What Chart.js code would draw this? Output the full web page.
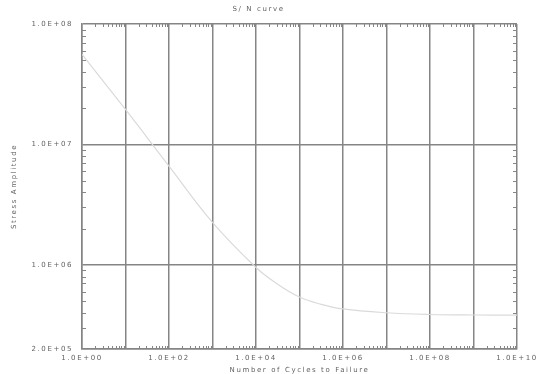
<!DOCTYPE html>
<html>
<head>
<meta charset="utf-8">
<script src="https://cdn.jsdelivr.net/npm/chart.js@4/dist/chart.umd.min.js"></script>
<style>
html,body{margin:0;padding:0;background:#fff;}
#wrap{width:547px;height:374px;}
</style>
</head>
<body>
<div id="wrap"><canvas id="c" width="547" height="374"></canvas></div>
<script>
// Data
const cycles = [1e0, 1e1, 1e2, 1e3, 1e4, 3.16e4, 1e5, 3.16e5, 1e6, 1e7, 1e8, 1e9, 1e10];
const stress = [5.6e7, 1.95e7, 6.6e6, 2.25e6, 9.5e5, 6.9e5, 5.4e5, 4.7e5, 4.3e5, 4.0e5, 3.87e5, 3.83e5, 3.82e5];

const xTickValues = [1e0,1e1,1e2,1e3,1e4,1e5,1e6,1e7,1e8,1e9,1e10];
const xTickLabels = ['1.0E+00','','1.0E+02','','1.0E+04','','1.0E+06','','1.0E+08','','1.0E+10'];
const yTickValues = [2e5, 1e6, 1e7, 1e8];
const yTickLabels = ['2.0E+05','1.0E+06','1.0E+07','1.0E+08'];

const titleText = 'S/ N curve';
const xTitle = 'Number of Cycles to Failure';
const yTitle = 'Stress Amplitude';

const GRID = '#858585';
const TEXT = '#626262';

const spacingPlugin = {
  id: 'spacing',
  beforeDraw(chart){ chart.ctx.letterSpacing = '1.6px'; }
};

const minorTicks = {
  id: 'minorTicks',
  afterDraw(chart){
    const ctx = chart.ctx, a = chart.chartArea;
    const xs = chart.scales.x, ys = chart.scales.y;
    ctx.save();
    ctx.strokeStyle = GRID;
    ctx.lineWidth = 1;
    ctx.beginPath();
    for (let d = 0; d < 10; d++) {
      for (let k = 2; k <= 9; k++) {
        const px = Math.round(xs.getPixelForValue(k * Math.pow(10, d))) + 0.5;
        ctx.moveTo(px, a.top); ctx.lineTo(px, a.top + 3);
        ctx.moveTo(px, a.bottom); ctx.lineTo(px, a.bottom - 3);
      }
    }
    for (let d = 5; d < 8; d++) {
      for (let k = 2; k <= 9; k++) {
        const v = k * Math.pow(10, d);
        if (v <= 2e5) continue;
        const py = Math.round(ys.getPixelForValue(v)) + 0.5;
        ctx.moveTo(a.left, py); ctx.lineTo(a.left + 4, py);
        ctx.moveTo(a.right, py); ctx.lineTo(a.right - 4, py);
      }
    }
    ctx.stroke();
    ctx.restore();
  }
};

new Chart(document.getElementById('c'), {
  type: 'line',
  data: {
    datasets: [{
      data: cycles.map((c, i) => ({x: c, y: stress[i]})),
      borderColor: '#dadada',
      borderWidth: 1.2,
      pointRadius: 0,
      tension: 0.4,
      fill: false
    }]
  },
  options: {
    responsive: false,
    animation: false,
    devicePixelRatio: 1,
    layout: { padding: { left: 0, right: 30, top: 0, bottom: 0 } },
    plugins: {
      legend: { display: false },
      tooltip: { enabled: false },
      title: {
        display: true,
        text: titleText,
        color: TEXT,
        font: { family: 'DejaVu Sans', size: 7, weight: 'normal' },
        padding: { top: 5, bottom: 10.6 },
        align: 'center'
      }
    },
    scales: {
      x: {
        type: 'logarithmic',
        min: 1e0, max: 1e10,
        afterBuildTicks(scale){ scale.ticks = xTickValues.map(v => ({value: v})); },
        afterFit(scale){ scale.height = 25; },
        ticks: {
          autoSkip: false, maxRotation: 0, padding: 5,
          color: TEXT,
          font: { family: 'DejaVu Sans', size: 7 },
          callback(v, i){ return xTickLabels[i]; }
        },
        grid: { color: GRID, lineWidth: 1.5, drawTicks: false },
        border: { color: GRID, width: 1.5 },
        title: {
          display: true, text: xTitle, color: TEXT,
          font: { family: 'DejaVu Sans', size: 7 },
          padding: { top: 0, bottom: 0 }
        }
      },
      y: {
        type: 'logarithmic',
        min: 2e5, max: 1e8,
        afterBuildTicks(scale){ scale.ticks = yTickValues.map(v => ({value: v})); },
        afterFit(scale){ scale.width = 82; },
        ticks: {
          autoSkip: false, padding: 9,
          color: TEXT,
          font: { family: 'DejaVu Sans', size: 7 },
          callback(v, i){ return yTickLabels[i]; }
        },
        grid: { color: GRID, lineWidth: 1.5, drawTicks: false },
        border: { color: GRID, width: 1.5 },
        title: {
          display: true, text: yTitle, color: TEXT,
          font: { family: 'DejaVu Sans', size: 7 },
          padding: { top: 10, bottom: 0 }
        }
      }
    }
  },
  plugins: [spacingPlugin, minorTicks]
});
</script>
</body>
</html>
